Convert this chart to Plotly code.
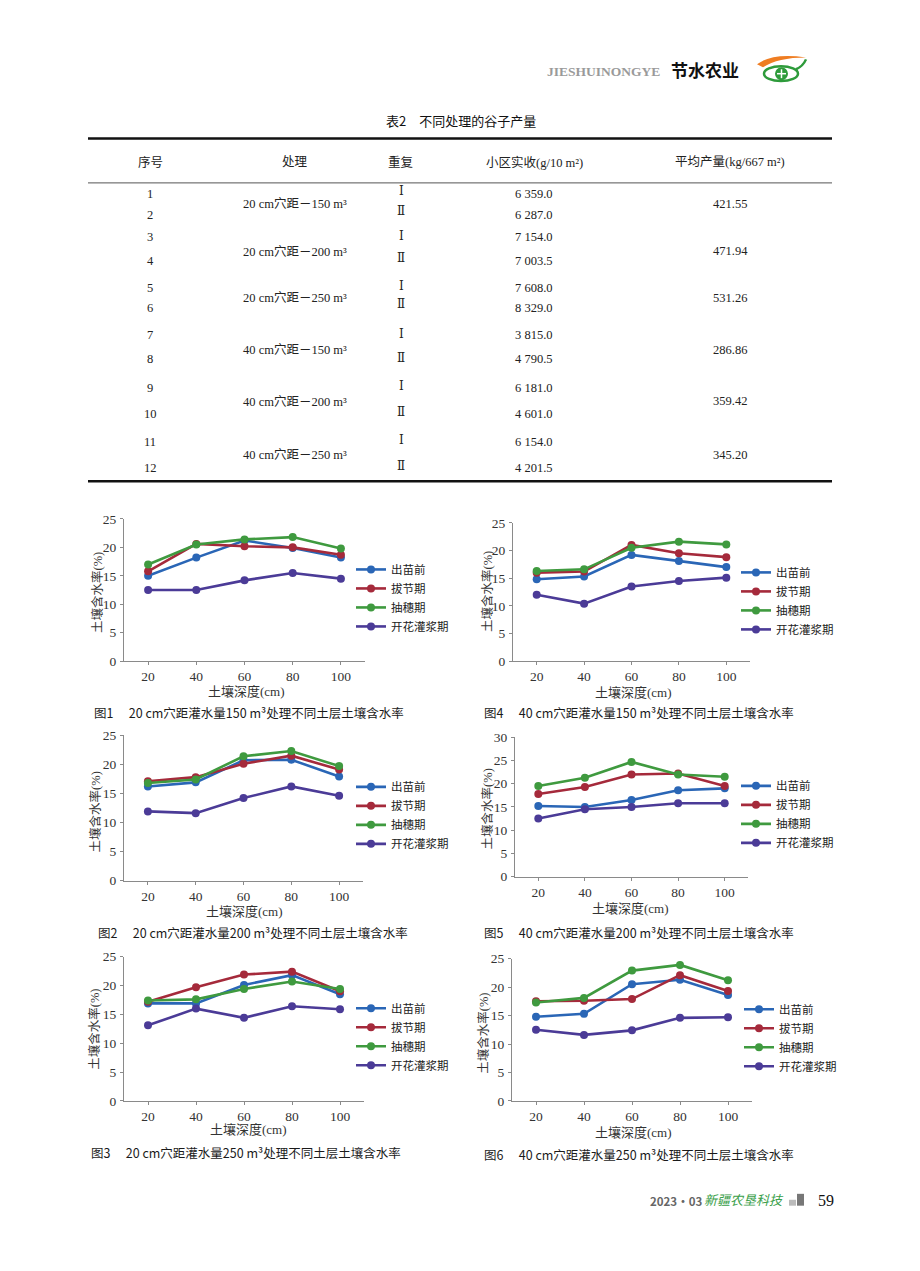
import plotly.graph_objects as go

W, H = 920, 1271


def px(x):
    return x / W


def py(y):
    return 1 - y / H


SERIF = "Liberation Serif, Noto Sans CJK SC, serif"
SANS = "Noto Sans CJK SC, Noto Sans, sans-serif"

# ---------------- data ----------------
depths = [20, 40, 60, 80, 100]
series_names = ["出苗前", "拔节期", "抽穗期", "开花灌浆期"]
series_colors = ["#2a66b6", "#a52a3b", "#3f9a3f", "#4b3b97"]

# figure 1: 20 cm spacing, 150 m3
fig1_chumiao = [15.0, 18.2, 21.2, 19.9, 18.2]
fig1_bajie = [15.8, 20.6, 20.2, 20.0, 18.7]
fig1_chousui = [17.0, 20.5, 21.4, 21.8, 19.8]
fig1_kaihua = [12.5, 12.5, 14.2, 15.5, 14.5]
# figure 2: 20 cm spacing, 200 m3
fig2_chumiao = [16.2, 16.9, 20.7, 20.8, 17.9]
fig2_bajie = [17.1, 17.8, 20.1, 21.5, 19.1]
fig2_chousui = [16.8, 17.4, 21.4, 22.3, 19.7]
fig2_kaihua = [11.9, 11.6, 14.2, 16.2, 14.6]
# figure 3: 20 cm spacing, 250 m3
fig3_chumiao = [16.9, 16.9, 20.1, 21.8, 18.5]
fig3_bajie = [17.2, 19.7, 21.9, 22.4, 19.0]
fig3_chousui = [17.4, 17.6, 19.4, 20.7, 19.4]
fig3_kaihua = [13.1, 16.0, 14.4, 16.4, 15.9]
# figure 4: 40 cm spacing, 150 m3
fig4_chumiao = [14.8, 15.3, 19.2, 18.1, 17.0]
fig4_bajie = [16.0, 16.2, 21.0, 19.5, 18.8]
fig4_chousui = [16.3, 16.6, 20.5, 21.6, 21.1]
fig4_kaihua = [12.0, 10.4, 13.5, 14.5, 15.1]
# figure 5: 40 cm spacing, 200 m3
fig5_chumiao = [15.2, 15.0, 16.5, 18.6, 19.0]
fig5_bajie = [17.8, 19.3, 22.0, 22.2, 19.5]
fig5_chousui = [19.5, 21.3, 24.7, 22.0, 21.5]
fig5_kaihua = [12.5, 14.5, 15.0, 15.8, 15.8]
# figure 6: 40 cm spacing, 250 m3
fig6_chumiao = [14.8, 15.3, 20.5, 21.3, 18.6]
fig6_bajie = [17.5, 17.6, 17.9, 22.1, 19.3]
fig6_chousui = [17.3, 18.1, 22.9, 23.9, 21.2]
fig6_kaihua = [12.5, 11.6, 12.4, 14.6, 14.7]

fig_series = [
    [fig1_chumiao, fig1_bajie, fig1_chousui, fig1_kaihua],
    [fig2_chumiao, fig2_bajie, fig2_chousui, fig2_kaihua],
    [fig3_chumiao, fig3_bajie, fig3_chousui, fig3_kaihua],
    [fig4_chumiao, fig4_bajie, fig4_chousui, fig4_kaihua],
    [fig5_chumiao, fig5_bajie, fig5_chousui, fig5_kaihua],
    [fig6_chumiao, fig6_bajie, fig6_chousui, fig6_kaihua],
]
fig_spacing = ["20", "20", "20", "40", "40", "40"]
fig_volume = ["150", "200", "250", "150", "200", "250"]
fig_ymax = [25, 25, 25, 25, 30, 25]

# table data
table_title = "表2\u2003不同处理的谷子产量"
table_headers = ["序号", "处理", "重复", "小区实收(g/10 m²)", "平均产量(kg/667 m²)"]
table_seq = [str(i) for i in range(1, 13)]
table_treatments = ["20 cm穴距－150 m³", "20 cm穴距－200 m³", "20 cm穴距－250 m³",
                    "40 cm穴距－150 m³", "40 cm穴距－200 m³", "40 cm穴距－250 m³"]
table_reps = ["Ⅰ", "Ⅱ"] * 6
table_plot_yield = ["6 359.0", "6 287.0", "7 154.0", "7 003.5", "7 608.0", "8 329.0",
                    "3 815.0", "4 790.5", "6 181.0", "4 601.0", "6 154.0", "4 201.5"]
table_avg_yield = ["421.55", "471.94", "531.26", "286.86", "359.42", "345.20"]

# ---------------- layout positions (pixels) ----------------
# x0, x1, ytop, ybottom, legend text x, legend centre y, ytitle x, ytitle y, xtitle x, xtitle y, caption x, caption y
panels = [
    (124, 365, 518, 662, 391, 598, 97, 593, 246, 693, 92, 714),
    (124, 363, 737, 884, 391, 818, 95, 815, 244, 915, 96, 937),
    (124, 364, 961, 1107, 391, 1042, 95, 1035, 248, 1136, 89, 1159),
    (513, 750, 522, 662, 776, 601, 487, 592, 633, 694, 482, 714),
    (515, 748, 739, 880, 776, 817, 487, 812, 630, 912, 482, 937),
    (512, 752, 963, 1107, 779, 1043, 484, 1038, 633, 1139, 482, 1161),
]

fig = go.Figure()
annotations = []
shapes = []


def text_at(t, x, y, size=12.5, family=SERIF, color="#222222", xanchor="center", angle=0):
    annotations.append(dict(text=t, x=px(x), y=py(y), xref="paper", yref="paper",
                            xanchor=xanchor, yanchor="middle", textangle=angle,
                            showarrow=False, font=dict(family=family, size=size, color=color)))


for i, (series, p) in enumerate(zip(fig_series, panels)):
    n = i + 1
    x0, x1, yt, yb, lx, ly, ytx, yty, xtx, xty, cx, cy = p
    xa = "x" if n == 1 else f"x{n}"
    ya = "y" if n == 1 else f"y{n}"
    lg = "legend" if n == 1 else f"legend{n}"
    for name, color, vals in zip(series_names, series_colors, series):
        fig.add_trace(go.Scatter(
            x=depths, y=vals, name=name, mode="lines+markers",
            line=dict(color=color, width=2.6),
            marker=dict(color=color, size=8),
            xaxis=xa, yaxis=ya, legend=lg, showlegend=True,
        ))
    axis_common = dict(showline=True, linecolor="#8a8a8a", linewidth=1,
                       showgrid=False, zeroline=False, fixedrange=True,
                       tickcolor="#8a8a8a",
                       tickfont=dict(family=SERIF, size=13.5, color="#333333"))
    fig.layout[("xaxis" if n == 1 else f"xaxis{n}")] = dict(
        domain=[px(x0), px(x1)], range=[10, 110], tickvals=depths,
        ticks="outside", ticklen=3, anchor=ya, ticklabelstandoff=0, **axis_common)
    fig.layout[("yaxis" if n == 1 else f"yaxis{n}")] = dict(
        domain=[py(yb), py(yt)], range=[0, fig_ymax[i]], dtick=5,
        ticks="outside", ticklen=3, anchor=xa, ticklabelstandoff=1, **axis_common)
    fig.layout[lg] = dict(
        x=px(lx - 40), y=py(ly), xanchor="left", yanchor="middle",
        bgcolor="rgba(0,0,0,0)", tracegroupgap=0,
        font=dict(family=SERIF, size=11.5, color="#222222"))
    text_at("土壤含水率(%)", ytx, yty, size=12.5, color="#333333", angle=-90)
    text_at("土壤深度(cm)", xtx, xty, size=13, color="#333333")
    text_at(f"图{n}\u2003 {fig_spacing[i]} cm穴距灌水量{fig_volume[i]} m³处理不同土层土壤含水率",
            cx, cy, size=12.5, family=SANS, color="#1a1a1a", xanchor="left")

# ---------------- table ----------------
col_x = [150, 295, 401, 534, 730]
header_y = 157
row_y = [189, 210, 233, 257, 284, 305, 332, 356, 386, 412, 440, 467]
rep_y = [186, 206, 232, 254, 282, 301, 331, 355, 384, 410, 438, 464]
group_y = [199, 247, 294, 347, 399, 453]

text_at(table_title, 461, 115, size=13, family=SANS, color="#111111")
for h, x in zip(table_headers, col_x):
    text_at(h, x, header_y)
for k in range(12):
    text_at(table_seq[k], col_x[0], row_y[k])
    text_at(table_reps[k], col_x[2], rep_y[k], family="DejaVu Serif, Noto Sans CJK SC", size=12)
    text_at(table_plot_yield[k], col_x[3], row_y[k])
for g in range(6):
    text_at(table_treatments[g], col_x[1], group_y[g])
    text_at(table_avg_yield[g], col_x[4], group_y[g])

for yy, wdt, col in [(133, 2.5, "#111111"), (178, 1, "#555555"), (480, 2.5, "#111111")]:
    shapes.append(dict(type="line", xref="paper", yref="paper", x0=px(88), x1=px(832),
                       y0=py(yy), y1=py(yy), line=dict(color=col, width=wdt)))

# ---------------- page header ----------------
text_at("<b>JIESHUINONGYE</b>", 603, 65, size=13.5, family="Liberation Serif", color="#9a9a9a")
text_at("<b>节水农业</b>", 705, 63, size=17, family=SANS, color="#111111")


def path(pts):
    out = []
    for cmd, coords in pts:
        s = " ".join(f"{px(a):.5f},{py(b):.5f}" for a, b in coords)
        out.append(f"{cmd} {s}")
    return " ".join(out) + " Z"


shapes.append(dict(type="path", xref="paper", yref="paper", line=dict(width=0), fillcolor="#ef7d22",
                   path=path([("M", [(757, 58)]), ("Q", [(772, 46), (806, 51)]),
                              ("Q", [(778, 51), (763, 61)])])))
shapes.append(dict(type="circle", xref="paper", yref="paper", x0=px(764), x1=px(798), y0=py(60), y1=py(75),
                   line=dict(color="#2e9b3b", width=2.5)))
shapes.append(dict(type="circle", xref="paper", yref="paper", x0=px(775), x1=px(788), y0=py(61), y1=py(74),
                   line=dict(width=0), fillcolor="#2e9b3b"))
shapes.append(dict(type="line", xref="paper", yref="paper", x0=px(777), x1=px(786), y0=py(67.5), y1=py(67.5),
                   line=dict(color="white", width=1.5)))
shapes.append(dict(type="line", xref="paper", yref="paper", x0=px(781.5), x1=px(781.5), y0=py(63), y1=py(72),
                   line=dict(color="white", width=1.5)))
shapes.append(dict(type="path", xref="paper", yref="paper", line=dict(color="#2e9b3b", width=2.5),
                   path="M " + f"{px(796):.5f},{py(63):.5f} Q {px(803):.5f},{py(60):.5f} {px(806):.5f},{py(53):.5f}"))

# ---------------- page footer ----------------
text_at("<b>2023·03</b>", 676, 1208, size=11.5, family=SANS, color="#666666")
text_at("<i>新疆农垦科技</i>", 744, 1207, size=13, family=SANS, color="#3aa04a")
shapes.append(dict(type="rect", xref="paper", yref="paper", x0=px(789), x1=px(796), y0=py(1213), y1=py(1207),
                   line=dict(width=0), fillcolor="#bbbbbb"))
shapes.append(dict(type="rect", xref="paper", yref="paper", x0=px(797), x1=px(804), y0=py(1213), y1=py(1201),
                   line=dict(width=0), fillcolor="#777777"))
text_at("59", 826, 1208, size=16, family="Liberation Serif", color="#111111")

fig.update_layout(
    width=W, height=H, margin=dict(l=0, r=0, t=0, b=0),
    paper_bgcolor="white", plot_bgcolor="white",
    annotations=annotations, shapes=shapes,
)

fig.write_html("out.html")
